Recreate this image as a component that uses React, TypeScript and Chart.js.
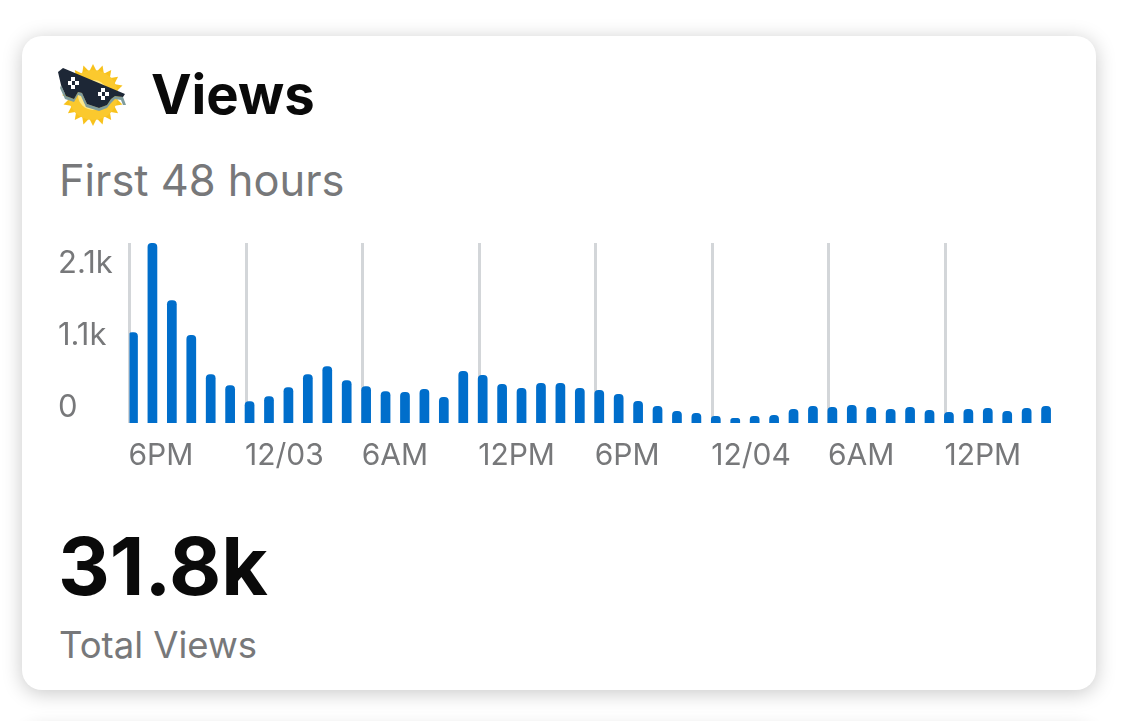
import React, { useEffect, useRef } from "react";
import { Chart, registerables } from "chart.js";

Chart.register(...registerables);

const hourlyViews = [
  1322, 2625, 1789, 1283, 710, 550, 316, 389, 520, 710, 827, 623, 535, 462,
  452, 496, 379, 758, 700, 569, 510, 583, 583, 510, 481, 423, 321, 248, 175,
  146, 102, 73, 102, 117, 204, 248, 233, 262, 233, 204, 233, 190, 160, 204,
  219, 175, 219, 248,
];
const xTickValues = [0, 6, 12, 18, 24, 30, 36, 42];
const xTickLabels = ["6PM", "12/03", "6AM", "12PM", "6PM", "12/04", "6AM", "12PM"];
const yTickValues = [0, 1050, 2100];
const yTickLabels = ["0", "1.1k", "2.1k"];
const title = "Views";
const subtitle = "First 48 hours";
const total = "31.8k";
const totalLabel = "Total Views";

const FONT = "Inter, 'Noto Sans', sans-serif";

const text = (
  left: number,
  top: number,
  size: number,
  weight: number,
  color: string
): React.CSSProperties => ({
  position: "absolute",
  left,
  top,
  fontFamily: FONT,
  fontSize: size,
  fontWeight: weight,
  color,
  lineHeight: `${size}px`,
  whiteSpace: "nowrap",
});

function SunIcon() {
  const spikes = [];
  for (let i = 0; i < 20; i++) {
    spikes.push(
      <polygon key={i} points="-4,-23 0,-31 4,-23" fill="#f8c21c" transform={`rotate(${i * 18})`} />
    );
  }
  return (
    <svg
      width="72"
      height="66"
      viewBox="0 0 72 66"
      style={{ position: "absolute", left: 57, top: 63 }}
    >
      <g transform="translate(36 32)">
        {spikes}
        <circle r="25" fill="#fbc92e" />
        <circle r="15" fill="#ffe98a" />
      </g>
      <path
        d="M4 22 L9 33 L17 36 L21 29 L25 30 L30 41 L42 45 L50 42 L54 36 L58 33 L66 34 L69 42 L66 42 L64 37 L58 36 L54 40 L50 45 L42 48 L29 44 L24 33 L21 32 L17 39 L8 36 L3 25 Z"
        fill="#7f9c9c"
      />
      <path
        d="M1 9 L6 5 L68 31 L66 34 L58 33 L54 36 L50 42 L42 45 L30 41 L25 30 L21 29 L17 36 L9 33 L4 22 Z"
        fill="#1d2736"
      />
      <rect x="14" y="14" width="4" height="4" fill="#fff" />
      <rect x="11" y="18" width="4" height="4" fill="#fff" />
      <rect x="18" y="18" width="4" height="4" fill="#fff" />
      <rect x="14" y="22" width="4" height="4" fill="#fff" />
      <rect x="44" y="25" width="4" height="4" fill="#fff" />
      <rect x="41" y="29" width="4" height="4" fill="#fff" />
      <rect x="48" y="29" width="4" height="4" fill="#fff" />
      <rect x="44" y="33" width="4" height="4" fill="#fff" />
    </svg>
  );
}

export default function App() {
  const ref = useRef<HTMLCanvasElement>(null);

  useEffect(() => {
    const chart = new Chart(ref.current!, {
      type: "bar",
      data: {
        datasets: [
          {
            data: hourlyViews.map((v, i) => ({ x: i + 0.18, y: v })),
            backgroundColor: "#006ecb",
            borderRadius: { topLeft: 4, topRight: 4, bottomLeft: 0, bottomRight: 0 },
            borderSkipped: false,
            barPercentage: 0.5,
            categoryPercentage: 1,
          },
        ],
      },
      options: {
        animation: false,
        responsive: false,
        maintainAspectRatio: false,
        layout: { padding: { top: 10, right: 0, left: 0, bottom: 0 } },
        plugins: { legend: { display: false }, tooltip: { enabled: false } },
        scales: {
          x: {
            type: "linear",
            offset: false,
            min: 0,
            max: 48,
            afterBuildTicks: (axis: any) => {
              axis.ticks = xTickValues.map((value) => ({ value }));
            },
            afterFit: (axis: any) => {
              axis.height = 50;
              axis.paddingLeft = 0;
              axis.paddingRight = 0;
            },
            grid: { color: "#d3d6d9", lineWidth: 3, drawTicks: false, offset: false },
            border: { display: false },
            ticks: {
              autoSkip: false,
              maxRotation: 0,
              align: "start",
              padding: 15,
              labelOffset: -1,
              color: "#77787a",
              font: { family: FONT, size: 30 },
              callback: (value: any) => xTickLabels[xTickValues.indexOf(Number(value))] ?? "",
            },
          },
          y: {
            min: 0,
            max: 2625,
            afterBuildTicks: (axis: any) => {
              axis.ticks = yTickValues.map((value) => ({ value }));
            },
            afterFit: (axis: any) => {
              axis.width = 71.5;
              axis.paddingTop = 0;
              axis.paddingBottom = 0;
            },
            grid: { display: false },
            border: { display: false },
            ticks: {
              autoSkip: false,
              crossAlign: "far",
              labelOffset: -15,
              padding: 0,
              color: "#77787a",
              font: { family: FONT, size: 31 },
              callback: (value: any) => yTickLabels[yTickValues.indexOf(Number(value))] ?? "",
            },
          },
        },
      },
    } as any);
    return () => chart.destroy();
  }, []);

  return (
    <div
      style={{
        position: "fixed",
        inset: 0,
        width: 1144,
        height: 721,
        background: "#fff",
        overflow: "hidden",
      }}
    >
      <div
        style={{
          position: "absolute",
          left: 22,
          top: 726,
          width: 1074,
          height: 300,
          borderRadius: 20,
          background: "#fff",
          boxShadow: "0 2px 18px rgba(0,0,0,0.16)",
        }}
      />
      <div
        style={{
          position: "absolute",
          left: 22,
          top: 36,
          width: 1074,
          height: 654,
          borderRadius: 20,
          background: "#fff",
          boxShadow: "0 3px 20px rgba(0,0,0,0.22)",
        }}
      />
      <SunIcon />
      <div style={text(151, 67, 54.4, 700, "#0a0a0a")}>{title}</div>
      <div style={text(59, 159, 43.4, 400, "#77787a")}>{subtitle}</div>
      <div style={text(58, 526, 80.3, 700, "#0a0a0a")}>{total}</div>
      <div style={text(59, 627, 36.5, 400, "#77787a")}>{totalLabel}</div>
      <canvas
        ref={ref}
        width={1004}
        height={240}
        style={{ position: "absolute", left: 58, top: 233, width: 1004, height: 240 }}
      />
    </div>
  );
}
